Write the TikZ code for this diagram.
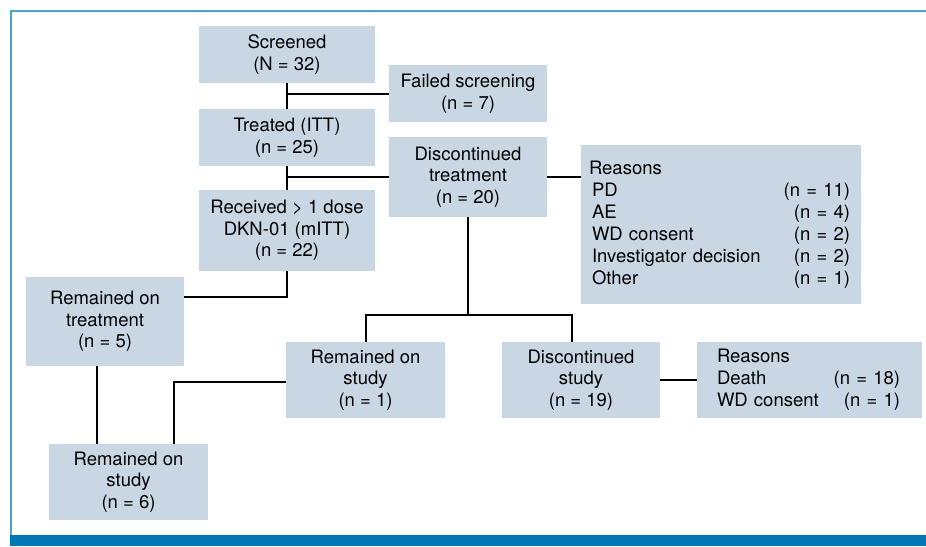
\documentclass[tikz,border=0pt]{standalone}
\usepackage{fontspec}
\setmainfont{TeX Gyre Heros}
\definecolor{boxc}{HTML}{C9D7E4}
\definecolor{frameblue}{HTML}{4BA3D3}
\definecolor{barblue}{HTML}{0077B6}
\begin{document}
\begin{tikzpicture}[x=1pt,y=-1pt,
  box/.style={fill=boxc, inner sep=0pt, align=center, font=\fontsize{18.5}{21.5}\selectfont},
  listtext/.style={inner sep=0pt, align=left, font=\fontsize{18.5}{22}\selectfont},
  conn/.style={draw=black, line width=2pt}]
\useasboundingbox (0,0) rectangle (926,546);
% frame
\draw[frameblue, line width=2pt] (10.5,535) -- (10.5,10.5) -- (926,10.5);
\fill[barblue] (10,535) rectangle (926,546);
% boxes
\node[box, minimum width=176pt, minimum height=57pt] (scr) at (287,54.5) {Screened\\(N = 32)};
\node[box, minimum width=158pt, minimum height=57pt] (fail) at (468,93.5) {Failed screening\\(n = 7)};
\node[box, minimum width=176pt, minimum height=57pt] (trt) at (287,137.5) {Treated (ITT)\\(n = 25)};
\node[box, minimum width=158pt, minimum height=80pt] (disc) at (468,177) {Discontinued\\treatment\\(n = 20)};
\node[box, minimum width=280pt, minimum height=159pt] (r1) at (721,224.5) {};
\node[listtext, text width=261pt] (r1t) at (719.5,224.5) {Reasons\\
\hspace*{3pt}PD\hfill(n = 11)\\
\hspace*{3pt}AE\hfill(n = 4)\\
\hspace*{3pt}WD consent\hfill(n = 2)\\
\hspace*{3pt}Investigator decision\hfill(n = 2)\\
\hspace*{3pt}Other\hfill(n = 1)};
\node[box, minimum width=176pt, minimum height=81pt] (recv) at (287,230.5) {Received > 1 dose\\DKN-01 (mITT)\\(n = 22)};
\node[box, minimum width=158pt, minimum height=89pt] (remt) at (105,321.5) {Remained on\\treatment\\(n = 5)};
\node[box, minimum width=159pt, minimum height=76pt] (rs1) at (365.5,380) {Remained on\\study\\(n = 1)};
\node[box, minimum width=158pt, minimum height=76pt] (dstudy) at (581,380) {Discontinued\\study\\(n = 19)};
\node[box, minimum width=225pt, minimum height=76pt] (r2) at (809.5,380) {};
\node[listtext, text width=183pt] (r2t) at (808.5,379.5) {Reasons\\Death\hfill(n = 18)\\WD consent\hfill(n = 1)};
\node[box, minimum width=159pt, minimum height=76pt] (rs6) at (128.5,482) {Remained on\\study\\(n = 6)};
% connectors
\draw[conn] (scr.south) -- (trt.north);
\draw[conn] (scr.south |- fail.west) -- (fail.west);
\draw[conn] (trt.south) -- (recv.north);
\draw[conn] (trt.south |- disc.west) -- (disc.west);
\draw[conn] (disc.east) -- (disc.east -| r1.west);
\coordinate (c1) at (287,297);
\draw[conn] (recv.south) -- (c1) -- (c1 -| remt.east);
\coordinate (c2) at (468,315);
\coordinate (c3) at (366,315);
\coordinate (c4) at (572,315);
\draw[conn] (disc.south) -- (c2);
\draw[conn] (c3 |- rs1.north) -- (c3) -- (c4) -- (c4 |- dstudy.north);
\coordinate (c5) at (97,366);
\draw[conn] (c5) -- (c5 |- rs6.north);
\coordinate (c6) at (174,382);
\draw[conn] (c6 -| rs1.west) -- (c6) -- (c6 |- rs6.north);
\draw[conn] (dstudy.east) -- (dstudy.east -| r2.west);
\end{tikzpicture}
\end{document}
